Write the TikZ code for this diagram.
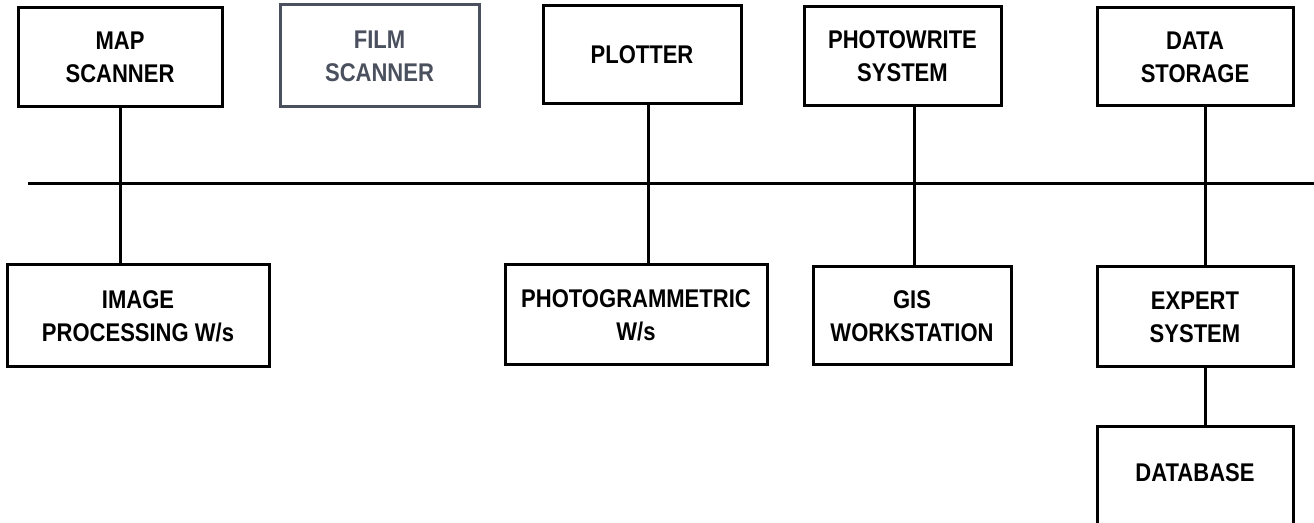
\documentclass[tikz,border=0pt]{standalone}
\usepackage{fontspec}
\setmainfont{Liberation Sans}[FakeStretch=0.86]
\definecolor{filmgrey}{HTML}{4B505E}

\begin{document}
\begin{tikzpicture}[x=0.5pt, y=-0.5pt,
    box/.style={draw, line width=1.5pt, align=center, inner sep=0pt,
        font=\fontsize{12.8}{16.5}\selectfont\bfseries},
    link/.style={line width=1.5pt}]

    \useasboundingbox (0,0) rectangle (1314,523);

    % Horni rada zarizeni
    \node[box, minimum width=102pt, minimum height=49.5pt] (mapScan) at (120,57.5) {MAP\\SCANNER};
    \node[box, draw=filmgrey, text=filmgrey, minimum width=99.5pt, minimum height=51pt] (filmScan) at (379.5,56) {FILM\\SCANNER};
    \node[box, minimum width=99pt, minimum height=49pt] (plotter) at (642,55) {PLOTTER};
    \node[box, minimum width=98.5pt, minimum height=49.5pt] (photoWrite) at (902.5,56.5) {PHOTOWRITE\\SYSTEM};
    \node[box, minimum width=98pt, minimum height=49pt] (dataStore) at (1195,57) {DATA\\STORAGE};

    % Spodni rada stanic
    \node[box, minimum width=131pt, minimum height=51pt] (imgProc) at (138,316) {IMAGE\\PROCESSING W/s};
    \node[box, minimum width=131pt, minimum height=50pt] (photoGram) at (636,315) {PHOTOGRAMMETRIC\\W/s};
    \node[box, minimum width=99pt, minimum height=49pt] (gisWs) at (912,316) {GIS\\WORKSTATION};
    \node[box, minimum width=98pt, minimum height=50pt] (expert) at (1195,317) {EXPERT\\SYSTEM};
    \node[box, minimum width=98pt, minimum height=55pt, text depth=9pt] (dataBase) at (1195,482) {DATABASE};

    % Sbernice
    \def\busY{184}
    \coordinate (busL) at (28,\busY);
    \coordinate (busR) at (1314,\busY);
    \draw[link] (busL) -- (busR);

    % Odbocky ze sbernice
    \coordinate (tapMap) at (120,\busY);
    \coordinate (tapPlot) at (648,\busY);
    \coordinate (tapWrite) at (914,\busY);
    \coordinate (tapData) at (1205,\busY);
    \draw[link] (tapMap |- mapScan.south) -- (tapMap |- imgProc.north);
    \draw[link] (tapPlot |- plotter.south) -- (tapPlot |- photoGram.north);
    \draw[link] (tapWrite |- photoWrite.south) -- (tapWrite |- gisWs.north);
    \draw[link] (tapData |- dataStore.south) -- (tapData |- expert.north);
    \draw[link] (tapData |- expert.south) -- (tapData |- dataBase.north);

\end{tikzpicture}
\end{document}
